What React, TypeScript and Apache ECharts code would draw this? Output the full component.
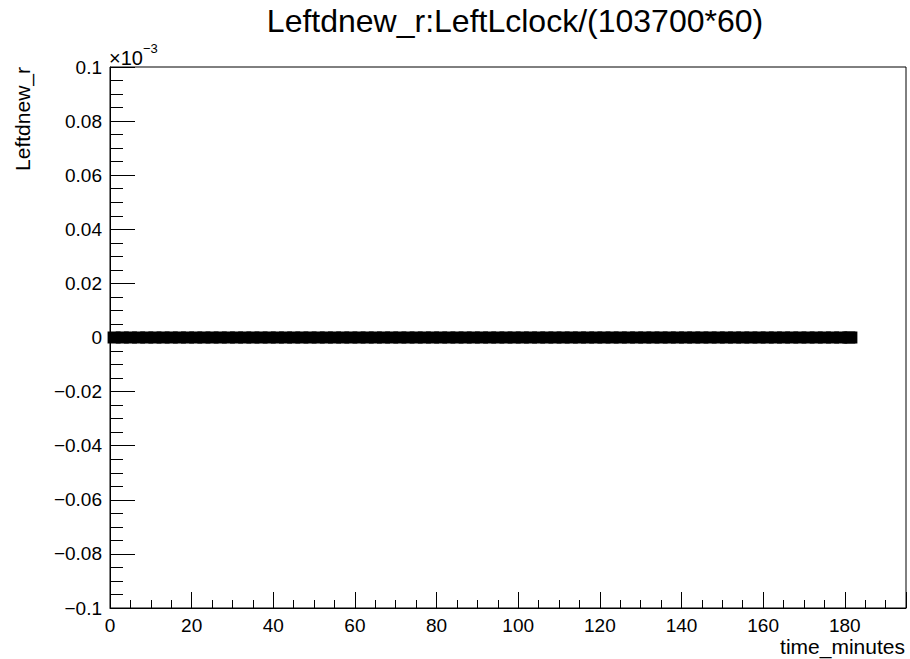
import React, { useEffect, useRef } from "react";
import * as echarts from "echarts";

const titleText = "Leftdnew_r:LeftLclock/(103700*60)";
const xAxisTitle = "time_minutes";
const yAxisTitle = "Leftdnew_r";
const exponentBase = "\u00d710";
const exponentPower = "\u22123";

// x range and ticks (minutes)
const xMin = 0;
const xMax = 195;
const xMajor = 20;
const xMinor = 5;
// y values in units of 1e-5 (labels shown in units of 1e-3 => value / 100)
const yMin = -10;
const yMax = 10;
const yMajor = 2;

// measured samples: time in minutes, Leftdnew_r value
const timeMinutes = [
  1, 3, 5, 7, 9, 11, 13, 15, 17, 19, 21, 23, 25, 27, 29, 31, 33, 35, 37, 39,
  41, 43, 45, 47, 49, 51, 53, 55, 57, 59, 61, 63, 65, 67, 69, 71, 73, 75, 77, 79,
  81, 83, 85, 87, 89, 91, 93, 95, 97, 99, 101, 103, 105, 107, 109, 111, 113, 115, 117, 119,
  121, 123, 125, 127, 129, 131, 133, 135, 137, 139, 141, 143, 145, 147, 149, 151, 153, 155, 157, 159,
  161, 163, 165, 167, 169, 171, 173, 175, 177, 179, 181, 181.5,
];
const leftdnewR = [
  0, 0, 0, 0, 0, 0, 0, 0, 0, 0, 0, 0, 0, 0, 0, 0, 0, 0, 0, 0,
  0, 0, 0, 0, 0, 0, 0, 0, 0, 0, 0, 0, 0, 0, 0, 0, 0, 0, 0, 0,
  0, 0, 0, 0, 0, 0, 0, 0, 0, 0, 0, 0, 0, 0, 0, 0, 0, 0, 0, 0,
  0, 0, 0, 0, 0, 0, 0, 0, 0, 0, 0, 0, 0, 0, 0, 0, 0, 0, 0, 0,
  0, 0, 0, 0, 0, 0, 0, 0, 0, 0, 0, 0,
];

const FONT = "'Liberation Sans', Arial, Helvetica, sans-serif";

function fmtY(v: number): string {
  const n = Math.round(v) / 100;
  let s = String(Number(n.toFixed(2)));
  if (s === "-0") s = "0";
  return s.replace("-", "\u2212");
}

export default function App() {
  const ref = useRef<HTMLDivElement>(null);
  useEffect(() => {
    document.body.style.margin = "0";
    if (!ref.current) return;
    const chart = echarts.init(ref.current, null, { renderer: "svg" });
    const data = timeMinutes.map((t, i) => [t, leftdnewR[i] * 1e5]);
    const baseX = {
      type: "value" as const,
      min: xMin,
      max: xMax,
      position: "bottom" as const,
      gridIndex: 0,
      splitLine: { show: false },
    };
    chart.setOption({
      animation: false,
      backgroundColor: "#ffffff",
      grid: {
        left: 110,
        right: 4,
        top: 67,
        bottom: 51,
        show: true,
        borderColor: "#000000",
        borderWidth: 1,
        backgroundColor: "transparent",
      },
      title: {
        text: titleText,
        left: 510,
        textAlign: "center",
        top: 0,
        textStyle: { fontFamily: FONT, fontSize: 32, fontWeight: "normal", color: "#000" },
      },
      xAxis: [
        {
          ...baseX,
          interval: xMinor,
          axisLine: { show: true, onZero: false, lineStyle: { color: "#000", width: 1 } },
          axisTick: { show: true, inside: true, length: 8, lineStyle: { color: "#000", width: 1 } },
          axisLabel: { show: false },
        },
        {
          ...baseX,
          interval: xMajor,
          axisLine: { show: false, onZero: false },
          axisTick: { show: true, inside: true, length: 16, lineStyle: { color: "#000", width: 1 } },
          axisLabel: {
            show: true,
            margin: 8,
            fontFamily: FONT,
            fontSize: 19,
            color: "#000",
            formatter: (v: number) => (v % xMajor === 0 ? String(v) : ""),
          },
        },
      ],
      yAxis: {
        type: "value",
        min: yMin,
        max: yMax,
        interval: yMajor,
        splitLine: { show: false },
        axisLine: { show: true, onZero: false, lineStyle: { color: "#000", width: 1 } },
        axisTick: { show: true, inside: true, length: 25, lineStyle: { color: "#000", width: 1 } },
        minorTick: { show: true, splitNumber: 4, length: 13, lineStyle: { color: "#000", width: 1 } },
        minorSplitLine: { show: false },
        axisLabel: {
          show: true,
          margin: 8,
          fontFamily: FONT,
          fontSize: 19,
          color: "#000",
          formatter: (v: number) => fmtY(v),
        },
      },
      graphic: [
        {
          type: "text",
          x: 109,
          y: 48,
          style: {
            text: exponentBase,
            fontFamily: FONT,
            fontSize: 20,
            fill: "#000",
            textAlign: "left",
            textVerticalAlign: "top",
          },
        },
        {
          type: "text",
          x: 143,
          y: 42,
          style: {
            text: exponentPower,
            fontFamily: FONT,
            fontSize: 13,
            fill: "#000",
            textAlign: "left",
            textVerticalAlign: "top",
          },
        },
        {
          type: "text",
          x: 905,
          y: 646,
          style: {
            text: xAxisTitle,
            fontFamily: FONT,
            fontSize: 21,
            fill: "#000",
            textAlign: "right",
            textVerticalAlign: "middle",
          },
        },
        {
          type: "text",
          x: 22,
          y: 67,
          rotation: Math.PI / 2,
          style: {
            text: yAxisTitle,
            fontFamily: FONT,
            fontSize: 21,
            fill: "#000",
            textAlign: "right",
            textVerticalAlign: "middle",
          },
        },
      ],
      series: [
        {
          type: "scatter",
          xAxisIndex: 0,
          yAxisIndex: 0,
          data,
          symbol: "rect",
          symbolSize: [13, 12],
          itemStyle: { color: "#000", opacity: 1 },
          clip: false,
        },
      ],
    });
    return () => chart.dispose();
  }, []);
  return <div ref={ref} style={{ width: 910, height: 659 }} />;
}
